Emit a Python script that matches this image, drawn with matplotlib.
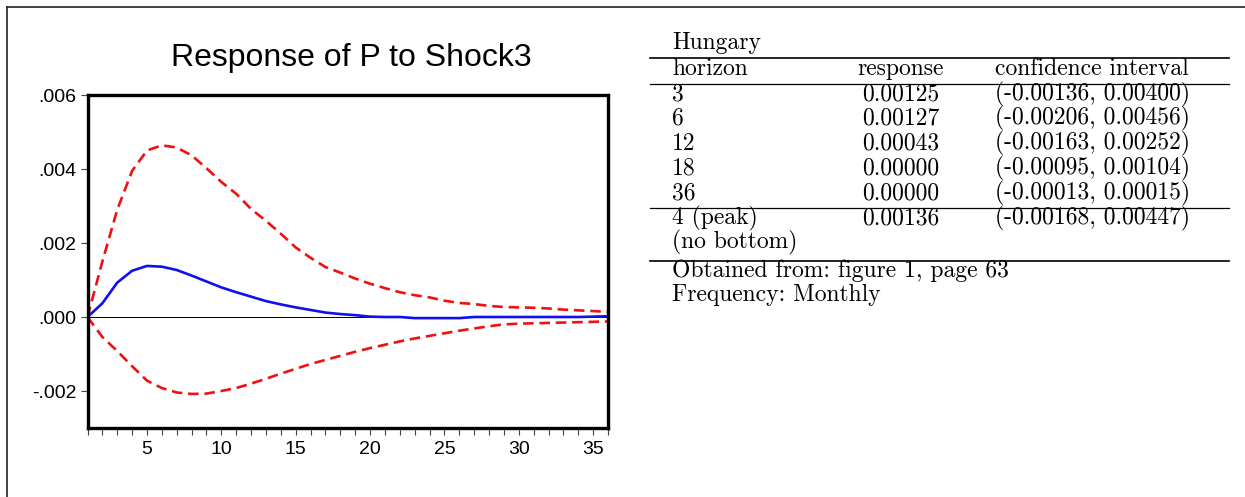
import matplotlib
matplotlib.use("Agg")
import matplotlib.pyplot as plt
from matplotlib.lines import Line2D
import numpy as np

# ---------------- data ----------------
periods = list(range(1, 37))
response = [0.0, 0.00037, 0.00093, 0.00125, 0.00138, 0.00136, 0.00127, 0.00112, 0.00096,
            0.00080, 0.00067, 0.00055, 0.00043, 0.00034, 0.00026, 0.00019, 0.00012, 0.00008,
            0.00005, 0.00001, 0.00000, 0.00000, -0.00003, -0.00003, -0.00003, -0.00003,
            0.00000, 0.00000, 0.00000, 0.00000, 0.00000, 0.00000, 0.00000, 0.00000,
            0.00001, 0.00002]
upper = [0.0, 0.00150, 0.00290, 0.00395, 0.00450, 0.00464, 0.00458, 0.00437, 0.00402,
         0.00365, 0.00333, 0.00292, 0.00260, 0.00225, 0.00188, 0.00160, 0.00135, 0.00120,
         0.00104, 0.00090, 0.00078, 0.00067, 0.00059, 0.00053, 0.00044, 0.00038, 0.00035,
         0.00030, 0.00027, 0.00026, 0.00025, 0.00023, 0.00020, 0.00018, 0.00016, 0.00014]
lower = [0.0, -0.00054, -0.00092, -0.00133, -0.00172, -0.00192, -0.00204, -0.00208,
         -0.00207, -0.00200, -0.00192, -0.00180, -0.00167, -0.00153, -0.00140, -0.00127,
         -0.00116, -0.00105, -0.00094, -0.00084, -0.00075, -0.00066, -0.00058, -0.00051,
         -0.00044, -0.00037, -0.00031, -0.00025, -0.00020, -0.00018, -0.00017, -0.00016,
         -0.00015, -0.00014, -0.00013, -0.00012]

ytick_values = [-0.002, 0.000, 0.002, 0.004, 0.006]
ytick_labels = ["-.002", ".000", ".002", ".004", ".006"]
xtick_values = [5, 10, 15, 20, 25, 30, 35]
xtick_labels = ["5", "10", "15", "20", "25", "30", "35"]

chart_title = "Response of P to Shock3"

table_title = "Hungary"
table_header = ["horizon", "response", "confidence interval"]
table_horizons = ["3", "6", "12", "18", "36"]
table_responses = ["0.00125", "0.00127", "0.00043", "0.00000", "0.00000"]
table_intervals = ["(-0.00136, 0.00400)", "(-0.00206, 0.00456)", "(-0.00163, 0.00252)",
                   "(-0.00095, 0.00104)", "(-0.00013, 0.00015)"]
peak_row = ["4 (peak)", "0.00136", "(-0.00168, 0.00447)"]
bottom_row = ["(no bottom)", "", ""]
notes = ["Obtained from: figure 1, page 63", "Frequency: Monthly"]

# ---------------- figure ----------------
W, H = 1245, 497
fig = plt.figure(figsize=(W / 100, H / 100), dpi=100)


def fx(px):
    return px / W


def fy(py):
    return 1 - py / H


# outer border (left and top only)
fig.add_artist(Line2D([fx(7), fx(7)], [fy(7), 0], color="#222222", lw=1.2,
                      transform=fig.transFigure))
fig.add_artist(Line2D([fx(7), 1], [fy(7), fy(7)], color="#222222", lw=1.2,
                      transform=fig.transFigure))

ax = fig.add_axes([fx(87.5), fy(428), fx(608) - fx(87.5), fy(95) - fy(428)])
ax.plot(periods, upper, color="#f01010", lw=1.9, dashes=(4, 2.2))
ax.plot(periods, lower, color="#f01010", lw=1.9, dashes=(4, 2.2))
ax.plot(periods, response, color="#1010ee", lw=1.9)
ax.axhline(0, color="black", lw=0.7, zorder=1)

ax.set_xlim(1, 36)
ax.set_ylim(-0.003, 0.006)
ax.set_yticks(ytick_values)
ax.set_yticklabels(ytick_labels, fontfamily="Liberation Sans", fontsize=14)
ax.set_xticks(xtick_values)
ax.set_xticklabels(xtick_labels, fontfamily="Liberation Sans", fontsize=14)
ax.set_xticks(periods, minor=True)
ax.tick_params(axis="y", direction="out", length=5, width=0.8, color="#444444", pad=3)
ax.tick_params(axis="x", which="both", direction="out", length=5, width=0.8,
               color="#444444", pad=4)
for s in ax.spines.values():
    s.set_linewidth(2.4)
    s.set_color("black")

fig.text(fx(351), fy(58), chart_title, fontfamily="Liberation Sans", fontsize=23,
         ha="center", va="center")

# ---------------- table ----------------
tf = dict(fontfamily="cmr10", fontsize=17, va="baseline")
col_x = [672, 901, 995]
col_ha = ["left", "center", "left"]


def row(y, cells):
    for c, x, ha in zip(cells, col_x, col_ha):
        if c:
            fig.text(fx(x), fy(y), c, ha=ha, **tf)


def hline(y, lw):
    fig.add_artist(Line2D([fx(650), fx(1229)], [fy(y), fy(y)], color="black", lw=lw,
                          transform=fig.transFigure))


fig.text(fx(672), fy(49), table_title, ha="left", **tf)
hline(57.5, 1.2)
row(75, table_header)
hline(84, 0.9)
row_ys = [100.5, 124.5, 149.5, 174.5, 199.5]
for y, h, r, ci in zip(row_ys, table_horizons, table_responses, table_intervals):
    row(y, [h, r, ci])
hline(208.5, 0.9)
row(224, peak_row)
row(248.5, bottom_row)
hline(261, 1.2)
fig.text(fx(672), fy(276.5), notes[0], ha="left", **tf)
fig.text(fx(672), fy(301), notes[1], ha="left", **tf)

fig.savefig("out.png", dpi=100)
